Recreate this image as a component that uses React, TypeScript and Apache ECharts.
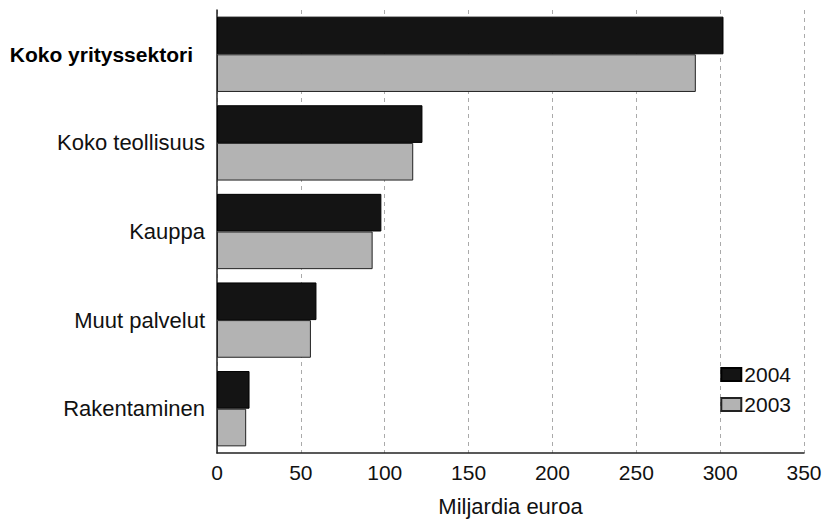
import React, { useEffect, useRef } from "react";
import * as echarts from "echarts";

const categories = ["Koko yrityssektori", "Koko teollisuus", "Kauppa", "Muut palvelut", "Rakentaminen"];
const values2004 = [302, 122.5, 98, 59.3, 19.4];
const values2003 = [285.5, 117, 92.8, 56, 17.4];
const xTicks = [0, 50, 100, 150, 200, 250, 300, 350];

export default function App() {
  const ref = useRef<HTMLDivElement>(null);
  useEffect(() => {
    document.body.style.margin = "0";
    document.body.style.overflow = "hidden";
    if (!ref.current) return;
    const chart = echarts.init(ref.current, null, { renderer: "svg" });
    const font = "'Liberation Sans', Arial, sans-serif";
    chart.setOption({
      animation: false,
      backgroundColor: "#ffffff",
      grid: { left: 217, right: 19, top: 10, bottom: 70, containLabel: false, outerBoundsMode: "none" },
      legend: {
        orient: "vertical",
        right: 27,
        top: 359,
        itemWidth: 20,
        itemHeight: 13,
        itemGap: 9,
        icon: "rect",
        textStyle: { fontFamily: font, fontSize: 21, color: "#111", padding: [0, 0, 0, -2] },
        data: ["2004", "2003"],
      },
      xAxis: {
        type: "value",
        min: 0,
        max: 350,
        interval: 50,
        axisLine: { show: true, lineStyle: { color: "#222", width: 1.5 } },
        axisTick: { show: false },
        axisLabel: {
          fontFamily: font,
          fontSize: 21,
          color: "#111",
          margin: 9,
          formatter: (v: number) => (xTicks.includes(v) ? String(v) : ""),
        },
        splitLine: { show: true, lineStyle: { color: "#aaa", type: [4, 4], width: 1 } },
        name: "Miljardia euroa",
        nameLocation: "middle",
        nameGap: 42,
        nameTextStyle: { fontFamily: font, fontSize: 22, color: "#111" },
      },
      yAxis: {
        type: "category",
        data: categories,
        inverse: true,
        axisLine: { show: true, lineStyle: { color: "#222", width: 1.5 } },
        axisTick: { show: false },
        axisLabel: {
          fontFamily: font,
          fontSize: 22,
          color: "#111",
          margin: 12,
          formatter: (v: string) => (v === categories[0] ? "{b|" + v + "}" : v),
          rich: { b: { fontFamily: font, fontSize: 21, fontWeight: "bold", color: "#000", padding: [0, 12, 0, 0] } },
        },
      },
      series: [
        {
          name: "2004",
          type: "bar",
          data: values2004,
          barGap: "0%",
          barCategoryGap: "15%",
          itemStyle: { color: "#141414", borderColor: "#000", borderWidth: 1 },
        },
        {
          name: "2003",
          type: "bar",
          data: values2003,
          barGap: "0%",
          barCategoryGap: "15%",
          itemStyle: { color: "#b3b3b3", borderColor: "#222", borderWidth: 1 },
        },
      ],
    });
    return () => chart.dispose();
  }, []);
  return <div ref={ref} style={{ width: 823, height: 523 }} />;
}
